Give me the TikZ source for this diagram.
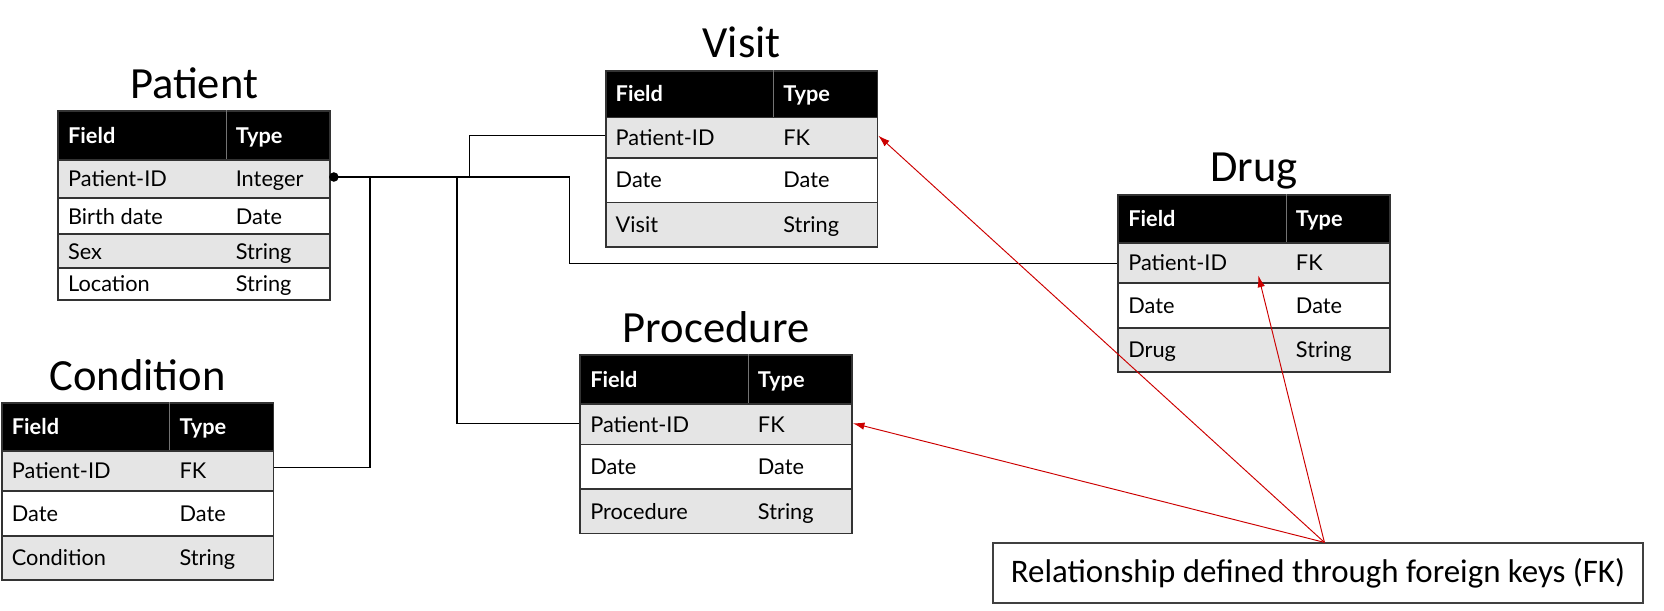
\documentclass[tikz,border=0pt]{standalone}
\usepackage{fontspec}
\setmainfont{Lato}
\newfontfamily\calfont{Carlito}
\usetikzlibrary{arrows.meta}

% one black header line of a table: name, x, y, height
\newcommand{\dbhead}[4]{%
  \node[headbox, minimum height=#4pt, anchor=north west] (#1-h) at (#2,#3) {};
  \node[headtext, anchor=base west] (#1-hf) at ([xshift=10pt, yshift=-7.3pt]#1-h.west) {Field};
  \node[headtext, anchor=base west] (#1-ht) at ([xshift=168pt, yshift=-7.3pt]#1-h.west) {Type};
  \draw[black!55, line width=0.6pt] ([xshift=159pt]#1-h.north west) -- ([xshift=159pt]#1-h.south west);
}
% one row of a table: name, x, y, height, fill, field, type
\newcommand{\dbrow}[7]{%
  \node[rowbox, fill=#5, minimum height=#4pt, anchor=north west] (#1) at (#2,#3) {};
  \node[celltext, anchor=base west] (#1-f) at ([xshift=10pt, yshift=-7.3pt]#1.west) {#6};
  \node[celltext, anchor=base west] (#1-t) at ([xshift=168pt, yshift=-7.3pt]#1.west) {#7};
}

\begin{document}
\begin{tikzpicture}[x=1pt, y=-1pt,
	headbox/.style={fill=black, draw=black!80, line width=1.6pt, minimum width=256pt, inner sep=0pt},
	rowbox/.style={draw=black!80, line width=1.6pt, minimum width=256pt, inner sep=0pt},
	celltext/.style={inner sep=0pt, font=\fontsize{20.5}{22}\selectfont},
	headtext/.style={inner sep=0pt, text=white, font=\fontsize{20.5}{22}\selectfont\bfseries},
	tabletitle/.style={inner sep=0pt, anchor=base, font=\calfont\fontsize{42}{44}\selectfont},
	link/.style={line width=1.1pt},
	fkarrow/.style={draw=red!80!black, line width=0.9pt, -{Latex[length=11pt, width=7pt]}},
	notebox/.style={draw=black!75, line width=1.8pt, minimum width=612pt, minimum height=56pt,
		font=\calfont\fontsize{31}{33}\selectfont}]
	\useasboundingbox (0,0) rectangle (1568,575);

	% Patient
	\dbhead{pat}{54}{104}{46}
	\dbrow{pat-1}{54}{150}{36}{black!10}{Patient-ID}{Integer}
	\dbrow{pat-2}{54}{186}{34}{white}{Birth date}{Date}
	\dbrow{pat-3}{54}{220}{32}{black!10}{Sex}{String}
	\dbrow{pat-4}{54}{252}{30}{white}{Location}{String}
	\node[tabletitle] (pat-title) at ([yshift=11.5pt]pat-h.north) {Patient};

	% Visit
	\dbhead{visit}{570}{66}{44}
	\dbrow{visit-1}{570}{110}{38}{black!10}{Patient-ID}{FK}
	\dbrow{visit-2}{570}{148}{42}{white}{Date}{Date}
	\dbrow{visit-3}{570}{190}{42}{black!10}{Visit}{String}
	\node[tabletitle] (visit-title) at ([yshift=11.5pt]visit-h.north) {Visit};

	% Drug
	\dbhead{drug}{1053}{183}{45}
	\dbrow{drug-1}{1053}{228}{38}{black!10}{Patient-ID}{FK}
	\dbrow{drug-2}{1053}{266}{42}{white}{Date}{Date}
	\dbrow{drug-3}{1053}{308}{42}{black!10}{Drug}{String}
	\node[tabletitle] (drug-title) at ([yshift=11.5pt]drug-h.north) {Drug};

	% Procedure
	\dbhead{proc}{546}{334}{46}
	\dbrow{proc-1}{546}{380}{38}{black!10}{Patient-ID}{FK}
	\dbrow{proc-2}{546}{418}{42}{white}{Date}{Date}
	\dbrow{proc-3}{546}{460}{42}{black!10}{Procedure}{String}
	\node[tabletitle] (proc-title) at ([yshift=11.5pt]proc-h.north) {Procedure};

	% Condition
	\dbhead{cond}{1}{379}{45}
	\dbrow{cond-1}{1}{424}{38}{black!10}{Patient-ID}{FK}
	\dbrow{cond-2}{1}{462}{42}{white}{Date}{Date}
	\dbrow{cond-3}{1}{504}{42}{black!10}{Condition}{String}
	\node[tabletitle] (cond-title) at ([yshift=11.5pt]cond-h.north) {Condition};

	% links on Patient-ID
	\coordinate (jc) at ([xshift=37pt, yshift=2pt]pat-1.east);
	\coordinate (jp) at ([xshift=119pt, yshift=2pt]pat-1.east);
	\coordinate (jv) at ([xshift=131pt, yshift=2pt]pat-1.east);
	\coordinate (jd) at ([xshift=225pt, yshift=2pt]pat-1.east);
	\draw[link] ([yshift=2pt]pat-1.east) -- (jd) |- ([yshift=-0.5pt]drug-1.west);
	\draw[link] (jv) |- ([yshift=2pt]visit-1.west);
	\draw[link] (jp) |- ([yshift=1pt]proc-1.west);
	\draw[link] (jc) |- ([yshift=3pt]cond-1.east);
	\node[circle, fill=black, inner sep=0pt, minimum size=9pt] (pat-dot) at ([xshift=3pt, yshift=2pt]pat-1.east) {};

	% note with foreign keys
	\node[notebox] (note) at (1242,540) {Relationship defined through foreign keys (FK)};
	\coordinate (nt) at ([xshift=6pt]note.north);
	\draw[fkarrow] (nt) -- ([yshift=2pt]visit-1.east);
	\draw[fkarrow] (nt) -- ([yshift=1pt]proc-1.east);
	\draw[fkarrow] (nt) -- ([shift={(4pt,8pt)}]drug-1.south);
\end{tikzpicture}
\end{document}
